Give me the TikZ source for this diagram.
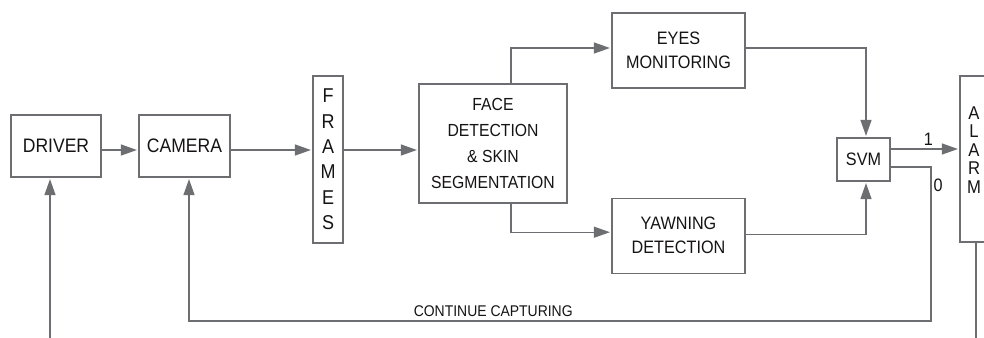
\documentclass[tikz,border=0pt]{standalone}
\usepackage{fontspec}
\setmainfont{Liberation Sans}[FakeStretch=0.9]
\usetikzlibrary{positioning,arrows.meta}

\definecolor{linegray}{HTML}{6D6E71}
\definecolor{textgray}{HTML}{151313}

\tikzset{
  blockbox/.style={draw=linegray, line width=1.2pt, align=center, inner sep=2pt, text=textgray},
  bigtext/.style={font=\fontsize{19.5}{25}\selectfont},
  midtext/.style={font=\fontsize{18}{24}\selectfont},
  flow/.style={draw=linegray, line width=1.2pt, -{Triangle[length=16pt,width=11pt]}, shorten >=1.5pt},
  wire/.style={draw=linegray, line width=1.2pt},
  tag/.style={text=textgray, font=\fontsize{18}{20}\selectfont},
}

\begin{document}
\begin{tikzpicture}[x=1pt, y=-1pt]
  \path[use as bounding box, clip] (0,0) rectangle (984,337);

  % blocks
  \node[blockbox, bigtext, minimum width=90pt, minimum height=62pt] (driver) at (56,146) {DRIVER};
  \node[blockbox, bigtext, minimum width=91pt, minimum height=62pt] (camera) at (184.5,146) {CAMERA};
  \node[blockbox, font=\fontsize{20}{25.4}\selectfont, minimum width=30pt, minimum height=167pt, inner sep=0pt] (frames) at (328,159.5) {F\\R\\A\\M\\E\\S};
  \node[blockbox, font=\fontsize{17.5}{26}\selectfont, minimum width=148pt, minimum height=119pt] (face) at (493,143.5) {FACE\\DETECTION\\\& SKIN\\SEGMENTATION};
  \node[blockbox, midtext, minimum width=133pt, minimum height=75pt] (eyes) at (678.5,50.5) {EYES\\MONITORING};
  \node[blockbox, midtext, minimum width=133pt, minimum height=75pt, below=109pt of eyes] (yawn) {YAWNING\\DETECTION};
  \node[blockbox, midtext, minimum width=53pt, minimum height=43pt] (svm) at (863.5,159.5) {SVM};
  \node[blockbox, minimum width=28pt, minimum height=166pt] (alarm) at (974,159) {};
  \node[tag, align=center, font=\fontsize{18.5}{18.5}\selectfont] (alarmtext) at (974,150) {A\\L\\A\\R\\M};

  \coordinate (row) at (0,150);
  \coordinate (turn) at (931,321);
  \coordinate (drivein) at (50,345);
  \coordinate (alarmout) at (976,345);

  % main chain
  \draw[flow] (drivein) -- (drivein |- driver.south);
  \draw[flow] (driver.east |- row) -- (camera.west |- row);
  \draw[flow] (camera.east |- row) -- (frames.west |- row);
  \draw[flow] (frames.east |- row) -- (face.west |- row);
  \draw[flow] ([xshift=18pt]face.north) |- ([yshift=2.5pt]eyes.west);
  \draw[flow] ([xshift=18pt]face.south) |- ([yshift=3.5pt]yawn.west);
  \draw[flow] ([yshift=2.5pt]eyes.east) -| ([xshift=2.5pt]svm.north);
  \draw[flow] ([yshift=1.5pt]yawn.east) -| ([xshift=2.5pt]svm.south);

  % decision
  \draw[flow] ([yshift=10.5pt]svm.east) -- ([yshift=10.5pt]svm.east -| alarm.west)
    node[tag, pos=0.55, above, inner sep=3pt] {1};
  \draw[flow] ([yshift=-7.5pt]svm.east) -| node[tag, pos=0.56, right, inner sep=2pt] {0} (turn)
    -| node[pos=0.295, above, text=textgray, font=\fontsize{15.5}{17}\selectfont, inner sep=4pt] {CONTINUE CAPTURING} ([xshift=4.5pt]camera.south);
  \draw[wire] (alarm.south -| alarmout) -- (alarmout);
\end{tikzpicture}
\end{document}
